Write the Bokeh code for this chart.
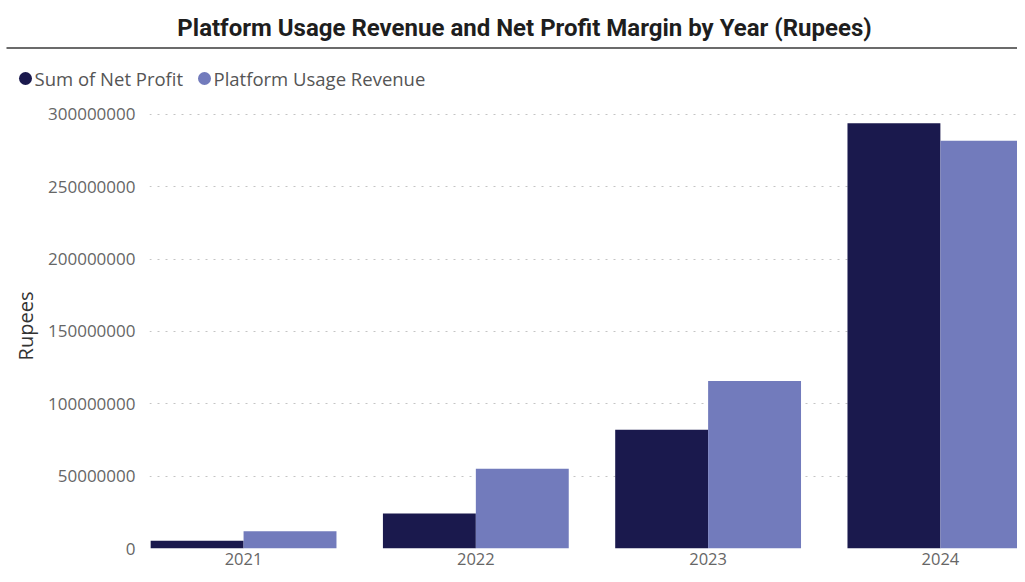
from bokeh.plotting import figure
from bokeh.layouts import column
from bokeh.models import Range1d, FixedTicker, NumeralTickFormatter, ColumnDataSource
from bokeh.core.properties import value
from bokeh.transform import dodge
from bokeh.embed import file_html
from bokeh.resources import INLINE

# ---- data ----
years = ["2021", "2022", "2023", "2024"]
net_profit = [5.4e6, 24.2e6, 82.0e6, 293.9e6]
platform_revenue = [11.9e6, 55.1e6, 115.7e6, 281.8e6]
series_names = ["Sum of Net Profit", "Platform Usage Revenue"]
y_ticks = [0, 50e6, 100e6, 150e6, 200e6, 250e6, 300e6]
title_text = "Platform Usage Revenue and Net Profit Margin by Year (Rupees)"

C_DARK = "#1a194d"
C_LIGHT = "#727bbc"
W = 1017

# ---- header (title, rule, legend) ----
HH = 97
hdr = figure(width=W, height=HH, x_range=Range1d(0, W), y_range=Range1d(HH, 0),
             output_backend="svg", toolbar_location=None, min_border=0)
hdr.frame_align = False
hdr.axis.visible = False
hdr.grid.visible = False
hdr.outline_line_color = None
hdr.text(x=[524], y=[27], text=[title_text], text_align="center", text_baseline="middle",
         text_font=value("Roboto"), text_font_style="bold", text_font_size="24px",
         text_color="#1e1e1e")
hdr.segment(x0=[6], y0=[47.5], x1=[W], y1=[47.5], line_color="#6b6b6b", line_width=2)
leg_x = [25, 204]
hdr.scatter(x=leg_x, y=[78, 78], size=13, marker="circle",
            fill_color=[C_DARK, C_LIGHT], line_color=None)
hdr.text(x=[x + 9 for x in leg_x], y=[78, 78], text=series_names, text_baseline="middle",
         text_font=value("Open Sans"), text_font_size="18.5px", text_color="#555555")

# ---- main chart ----
xc = [i + 0.5 for i in range(len(years))]
src = ColumnDataSource(dict(x=xc, np=net_profit, rev=platform_revenue))

p = figure(width=W, height=574 - HH, x_range=Range1d(0.095, 3.832), y_range=Range1d(0, 300e6 * 452 / 441),
           output_backend="svg", toolbar_location=None,
           min_border_left=149, min_border_right=0, min_border_top=103 - HH, min_border_bottom=26)
p.frame_align = False
p.outline_line_color = None

p.vbar(x=dodge("x", -0.2), top="np", width=0.4, source=src, fill_color=C_DARK, line_color=None)
p.vbar(x=dodge("x", 0.2), top="rev", width=0.4, source=src, fill_color=C_LIGHT, line_color=None)

p.xaxis.ticker = FixedTicker(ticks=xc)
p.xaxis.major_label_overrides = {x: y for x, y in zip(xc, years)}
p.yaxis.ticker = FixedTicker(ticks=y_ticks)
p.yaxis.formatter = NumeralTickFormatter(format="0")

for ax in (p.xaxis[0], p.yaxis[0]):
    ax.axis_line_color = None
    ax.major_tick_line_color = None
    ax.minor_tick_line_color = None
    ax.major_tick_out = 0
    ax.major_tick_in = 0
    ax.major_label_text_font = "Open Sans"
    ax.major_label_text_font_size = "17px"
    ax.major_label_text_color = "#666666"

p.xaxis.major_label_text_font_size = "16.5px"
p.xaxis.major_label_standoff = 4
p.yaxis.major_label_standoff = 14
p.yaxis.axis_label = "Rupees"
p.yaxis.axis_label_text_font = "Open Sans"
p.yaxis.axis_label_text_font_style = "normal"
p.yaxis.axis_label_text_font_size = "20px"
p.yaxis.axis_label_text_color = "#333333"
p.yaxis.axis_label_standoff = 6

p.xgrid.visible = False
p.ygrid.grid_line_color = "#c4c4c4"
p.ygrid.grid_line_dash = "2 6"
p.ygrid.grid_line_width = 1

layout = column(hdr, p, spacing=0)
open("out.html", "w").write(file_html(layout, INLINE))
